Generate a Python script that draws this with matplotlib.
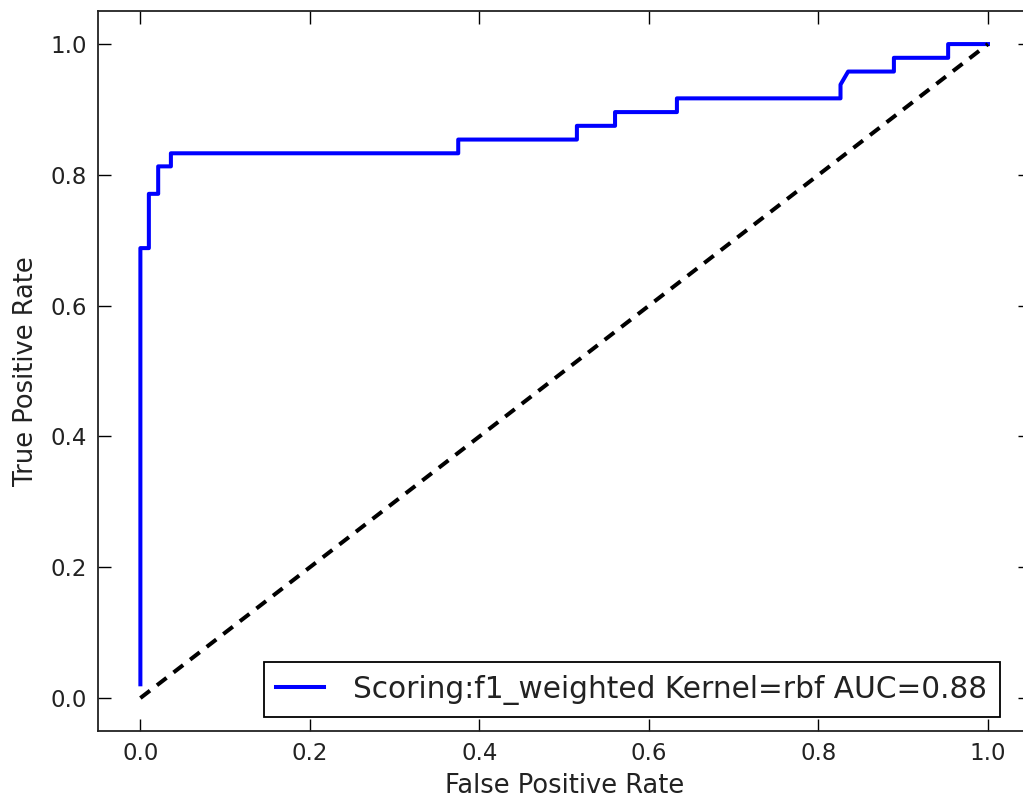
import numpy as np
import matplotlib
matplotlib.use("Agg")
import matplotlib.pyplot as plt

# ROC curve points (steps of ~1/48 in TPR)
fpr = [0.0, 0.0, 0.010, 0.010, 0.021, 0.021, 0.036, 0.036, 0.375, 0.375,
       0.515, 0.515, 0.560, 0.560, 0.633, 0.633, 0.826, 0.826, 0.835,
       0.889, 0.889, 0.953, 0.953, 1.0]
tpr = [0.021, 0.688, 0.688, 0.771, 0.771, 0.813, 0.813, 0.833, 0.833, 0.854,
       0.854, 0.875, 0.875, 0.896, 0.896, 0.917, 0.917, 0.938, 0.958,
       0.958, 0.979, 0.979, 1.0, 1.0]
chance = [0.0, 1.0]

label = "Scoring:f1_weighted Kernel=rbf AUC=0.88"

fig = plt.figure(figsize=(10.23, 8.07), dpi=100)
ax = fig.add_axes([0.0958, 0.0945, 0.9114, 0.8914])

ax.plot(fpr, tpr, color="b", lw=2.9, label=label)
ax.plot(chance, chance, color="k", lw=2.9, linestyle=(0, (3.0, 2.2)))

ax.set_xlim(-0.05, 1.05)
ax.set_ylim(-0.05, 1.05)
ax.set_xticks([0.0, 0.2, 0.4, 0.6, 0.8, 1.0])
ax.set_yticks([0.0, 0.2, 0.4, 0.6, 0.8, 1.0])
ax.tick_params(direction="in", length=9, width=1, labelsize=16.5,
               labelcolor="#222222", top=True, right=True, pad=8)
for s in ax.spines.values():
    s.set_linewidth(1.3)
    s.set_color("#222222")

ax.set_xlabel("False Positive Rate", fontsize=18.5, labelpad=6, color="#222222")
ax.set_ylabel("True Positive Rate", fontsize=18.5, labelpad=8, color="#222222")

leg = ax.legend(loc="lower right", bbox_to_anchor=(0.967, 0.019),
                borderaxespad=0, fontsize=21.3, fancybox=False,
                framealpha=1, handlelength=1.6, handletextpad=1.0,
                borderpad=0.42, labelcolor="#222222")
leg.get_frame().set_edgecolor("black")
leg.get_frame().set_linewidth(1.3)

fig.savefig("out.png", dpi=100)
